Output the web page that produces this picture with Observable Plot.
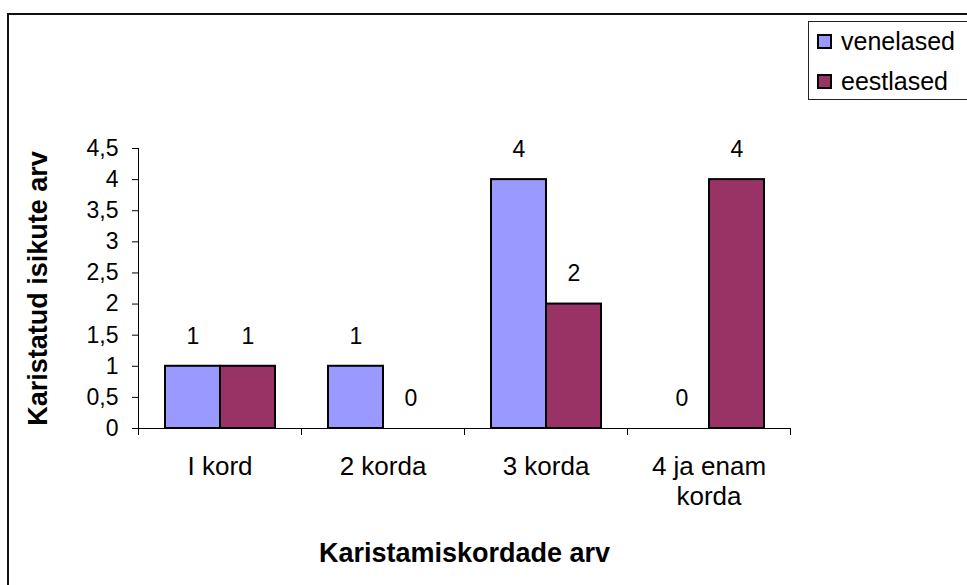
<!DOCTYPE html>
<html>
<head>
<meta charset="utf-8">
<script src="https://cdn.jsdelivr.net/npm/d3@7"></script>
<script src="https://cdn.jsdelivr.net/npm/@observablehq/plot@0.6"></script>
<style>
  body { margin: 0; background: #fff; font-family: "Liberation Sans", Arial, sans-serif; }
  #wrap { position: relative; width: 967px; height: 585px; overflow: hidden; background: #fff; }
  #border { position: absolute; left: 7px; top: 13px; width: 1100px; height: 1100px; border: 2px solid #111; box-sizing: border-box; pointer-events: none; }
  #legend { position: absolute; left: 808px; top: 21px; width: 200px; height: 79px; border: 1px solid #222; box-sizing: border-box; background: #fff; }
  .item { position: absolute; left: 8px; height: 32px; display: flex; align-items: center; font-size: 25px; color: #000; white-space: nowrap; }
  .sw { width: 11px; height: 11px; border: 2px solid #000; margin-right: 9px; }
  svg g[aria-label$="axis label"] text { font-weight: bold; font-size: 27px; }
</style>
</head>
<body>
<div id="wrap">
  <div id="chart"></div>
  <div id="border"></div>
  <div id="legend"></div>
</div>
<script>
const categories = ["I kord", "2 korda", "3 korda", "4 ja enam korda"];
const seriesNames = ["venelased", "eestlased"];
const venelased = [1, 1, 4, 0];
const eestlased = [1, 0, 2, 4];
const yTicks = [0, 0.5, 1, 1.5, 2, 2.5, 3, 3.5, 4, 4.5];
const colors = ["#9999FF", "#993366"];
const xTitle = "Karistamiskordade arv";
const yTitle = "Karistatud isikute arv";

const seriesValues = [venelased, eestlased];
const data = [];
categories.forEach((c, i) => {
  seriesNames.forEach((s, j) => data.push({cat: c, series: s, v: seriesValues[j][i]}));
});

const chart = Plot.plot({
  width: 967,
  height: 585,
  marginLeft: 138,
  marginRight: 177,
  marginTop: 148,
  marginBottom: 157,
  style: {fontFamily: "'Liberation Sans', Arial, sans-serif", color: "#000", background: "transparent"},
  fx: {domain: categories, padding: 0},
  x: {domain: seriesNames, paddingInner: 0, paddingOuter: 0.48, axis: null},
  y: {domain: [0, 4.5]},
  color: {domain: seriesNames, range: colors},
  marks: [
    Plot.barY(data.filter(d => d.v > 0), {
      fx: "cat", x: "series", y: "v", fill: "series",
      stroke: "#000", strokeWidth: 2, inset: 0
    }),
    Plot.text(data, {
      fx: "cat", x: "series", y: "v", text: d => String(d.v),
      dy: -30, fontSize: 23, fill: "#000"
    }),
    Plot.ruleY([0], {stroke: "#000", strokeWidth: 1}),
    Plot.frame({anchor: "left", facetAnchor: "left", stroke: "#000"}),
    Plot.frame({anchor: "left", insetTop: 280, insetBottom: -6, stroke: "#000"}),
    Plot.frame({anchor: "right", insetTop: 280, insetBottom: -6, stroke: "#000"}),
    Plot.axisY({
      ticks: yTicks,
      tickFormat: d => String(d).replace(".", ","),
      tickSize: 6, tickPadding: 14, fontSize: 23,
      label: yTitle, labelAnchor: "center", labelArrow: "none", labelOffset: 111
    }),
    Plot.axisFx({
      anchor: "bottom", tickSize: 0, tickPadding: 25, fontSize: 26,
      lineWidth: 6, lineHeight: 1.15,
      label: xTitle, labelAnchor: "center", labelArrow: "none", labelOffset: 133
    })
  ]
});
document.getElementById("chart").appendChild(chart);

const legend = document.getElementById("legend");
seriesNames.forEach((s, j) => {
  const item = document.createElement("div");
  item.className = "item";
  item.style.top = (3 + j * 40) + "px";
  const sw = document.createElement("div");
  sw.className = "sw";
  sw.style.background = colors[j];
  const t = document.createElement("span");
  t.textContent = s;
  item.appendChild(sw);
  item.appendChild(t);
  legend.appendChild(item);
});
</script>
</body>
</html>
